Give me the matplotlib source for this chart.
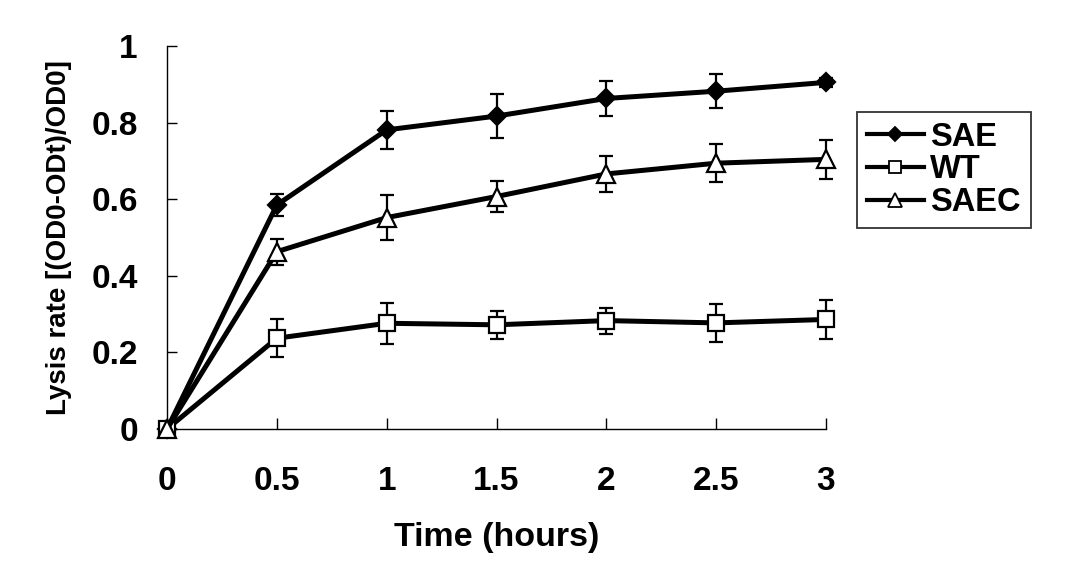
import matplotlib
matplotlib.use("Agg")
import matplotlib.pyplot as plt
from matplotlib.lines import Line2D

time_h = [0, 0.5, 1, 1.5, 2, 2.5, 3]
sae = [0, 0.585, 0.781, 0.817, 0.863, 0.882, 0.905]
sae_err = [0, 0.028, 0.050, 0.057, 0.046, 0.044, 0.012]
wt = [0, 0.237, 0.276, 0.272, 0.283, 0.277, 0.286]
wt_err = [0, 0.049, 0.053, 0.037, 0.034, 0.050, 0.051]
saec = [0, 0.463, 0.552, 0.607, 0.666, 0.694, 0.704]
saec_err = [0, 0.034, 0.059, 0.041, 0.048, 0.049, 0.050]

x_ticks = [0, 0.5, 1, 1.5, 2, 2.5, 3]
x_labels = ["0", "0.5", "1", "1.5", "2", "2.5", "3"]
y_ticks = [0, 0.2, 0.4, 0.6, 0.8, 1.0]
y_labels = ["0", "0.2", "0.4", "0.6", "0.8", "1"]

plt.rcParams['font.family'] = ['Liberation Sans', 'DejaVu Sans']
fig = plt.figure(figsize=(10.68, 5.70), dpi=100)
ax = fig.add_axes([0.1564, 0.2474, 0.6170, 0.6719])

series = [
    ("SAE", sae, sae_err, "D", "black", 9.5),
    ("WT", wt, wt_err, "s", "white", 12),
    ("SAEC", saec, saec_err, "^", "white", 13.5),
]
handles = []
for name, vals, errs, mk, fc, ms in series:
    ax.errorbar(time_h, vals, yerr=errs, color="black", lw=3.6,
                marker=mk, markersize=ms, markerfacecolor=fc,
                markeredgecolor="black", markeredgewidth=1.6,
                ecolor="black", elinewidth=1.6, capsize=4.7, capthick=1.6,
                clip_on=False, zorder=3)
    handles.append(Line2D([], [], color="black", lw=3.0, marker=mk,
                          markersize=ms * 0.72, markerfacecolor=fc,
                          markeredgecolor="black", markeredgewidth=1.3,
                          label=name))

ax.set_xlim(0, 3)
ax.set_ylim(0, 1)
ax.set_xticks(x_ticks)
ax.set_xticklabels(x_labels)
ax.set_yticks(y_ticks)
ax.set_yticklabels(y_labels)
for s in ["top", "right"]:
    ax.spines[s].set_visible(False)
for s in ["left", "bottom"]:
    ax.spines[s].set_linewidth(1.0)
ax.tick_params(direction="in", width=1.0, labelsize=24)
ax.tick_params(axis="x", length=8, pad=27)
ax.tick_params(axis="y", length=7, pad=21)
for lbl in ax.get_xticklabels() + ax.get_yticklabels():
    lbl.set_fontweight("bold")

ax.set_xlabel("Time (hours)", fontsize=24.5, fontweight="bold", labelpad=17.5)
ax.set_ylabel("Lysis rate [(OD0-ODt)/OD0]", fontsize=20, fontweight="bold",
              labelpad=14)

leg = ax.legend(handles=handles, loc="upper left", bbox_to_anchor=(1.047, 0.828),
                borderaxespad=0, frameon=True, fancybox=False, edgecolor="black",
                prop={"weight": "bold", "size": 23.5}, handlelength=1.75,
                handletextpad=0.2, borderpad=0.3, labelspacing=0.05)
leg.get_frame().set_linewidth(1.3)

fig.savefig("out.png", dpi=100, facecolor="white")
